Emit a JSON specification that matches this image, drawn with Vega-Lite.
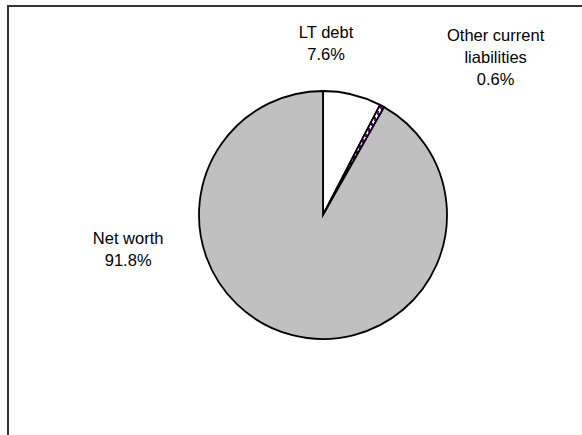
{
  "$schema": "https://vega.github.io/schema/vega-lite/v6.json",
  "width": 630,
  "height": 430,
  "autosize": {"type": "none"},
  "padding": {"left": 8, "top": 6, "right": 0, "bottom": 0},
  "background": "white",
  "view": {"stroke": "#333333", "strokeWidth": 2, "fill": "white"},
  "config": {
    "text": {"font": "Liberation Sans", "fontSize": 16.5, "fill": "#000000"}
  },
  "data": {
    "values": [
      {"part": "LT debt", "share": 0.076, "rank": 1},
      {"part": "Other current\nliabilities", "share": 0.006, "rank": 2},
      {"part": "Net worth", "share": 0.918, "rank": 3}
    ]
  },
  "encoding": {
    "theta": {"field": "share", "type": "quantitative", "stack": true},
    "order": {"field": "rank", "type": "quantitative"}
  },
  "layer": [
    {
      "mark": {"type": "arc", "outerRadius": 124, "yOffset": -6, "stroke": "#000000", "strokeWidth": 1.8},
      "encoding": {
        "fill": {
          "condition": {
            "test": "datum.rank === 2",
            "value": {
              "gradient": "linear", "x1": 0, "y1": 1, "x2": 1, "y2": 0,
              "stops": [
                {"offset": 0.000, "color": "#660099"}, {"offset": 0.025, "color": "#660099"}, {"offset": 0.025, "color": "#ffffff"}, {"offset": 0.050, "color": "#ffffff"},
                {"offset": 0.050, "color": "#660099"}, {"offset": 0.075, "color": "#660099"}, {"offset": 0.075, "color": "#ffffff"}, {"offset": 0.100, "color": "#ffffff"},
                {"offset": 0.100, "color": "#660099"}, {"offset": 0.125, "color": "#660099"}, {"offset": 0.125, "color": "#ffffff"}, {"offset": 0.150, "color": "#ffffff"},
                {"offset": 0.150, "color": "#660099"}, {"offset": 0.175, "color": "#660099"}, {"offset": 0.175, "color": "#ffffff"}, {"offset": 0.200, "color": "#ffffff"},
                {"offset": 0.200, "color": "#660099"}, {"offset": 0.225, "color": "#660099"}, {"offset": 0.225, "color": "#ffffff"}, {"offset": 0.250, "color": "#ffffff"},
                {"offset": 0.250, "color": "#660099"}, {"offset": 0.275, "color": "#660099"}, {"offset": 0.275, "color": "#ffffff"}, {"offset": 0.300, "color": "#ffffff"},
                {"offset": 0.300, "color": "#660099"}, {"offset": 0.325, "color": "#660099"}, {"offset": 0.325, "color": "#ffffff"}, {"offset": 0.350, "color": "#ffffff"},
                {"offset": 0.350, "color": "#660099"}, {"offset": 0.375, "color": "#660099"}, {"offset": 0.375, "color": "#ffffff"}, {"offset": 0.400, "color": "#ffffff"},
                {"offset": 0.400, "color": "#660099"}, {"offset": 0.425, "color": "#660099"}, {"offset": 0.425, "color": "#ffffff"}, {"offset": 0.450, "color": "#ffffff"},
                {"offset": 0.450, "color": "#660099"}, {"offset": 0.475, "color": "#660099"}, {"offset": 0.475, "color": "#ffffff"}, {"offset": 0.500, "color": "#ffffff"},
                {"offset": 0.500, "color": "#660099"}, {"offset": 0.525, "color": "#660099"}, {"offset": 0.525, "color": "#ffffff"}, {"offset": 0.550, "color": "#ffffff"},
                {"offset": 0.550, "color": "#660099"}, {"offset": 0.575, "color": "#660099"}, {"offset": 0.575, "color": "#ffffff"}, {"offset": 0.600, "color": "#ffffff"},
                {"offset": 0.600, "color": "#660099"}, {"offset": 0.625, "color": "#660099"}, {"offset": 0.625, "color": "#ffffff"}, {"offset": 0.650, "color": "#ffffff"},
                {"offset": 0.650, "color": "#660099"}, {"offset": 0.675, "color": "#660099"}, {"offset": 0.675, "color": "#ffffff"}, {"offset": 0.700, "color": "#ffffff"},
                {"offset": 0.700, "color": "#660099"}, {"offset": 0.725, "color": "#660099"}, {"offset": 0.725, "color": "#ffffff"}, {"offset": 0.750, "color": "#ffffff"},
                {"offset": 0.750, "color": "#660099"}, {"offset": 0.775, "color": "#660099"}, {"offset": 0.775, "color": "#ffffff"}, {"offset": 0.800, "color": "#ffffff"},
                {"offset": 0.800, "color": "#660099"}, {"offset": 0.825, "color": "#660099"}, {"offset": 0.825, "color": "#ffffff"}, {"offset": 0.850, "color": "#ffffff"},
                {"offset": 0.850, "color": "#660099"}, {"offset": 0.875, "color": "#660099"}, {"offset": 0.875, "color": "#ffffff"}, {"offset": 0.900, "color": "#ffffff"},
                {"offset": 0.900, "color": "#660099"}, {"offset": 0.925, "color": "#660099"}, {"offset": 0.925, "color": "#ffffff"}, {"offset": 0.950, "color": "#ffffff"},
                {"offset": 0.950, "color": "#660099"}, {"offset": 0.975, "color": "#660099"}, {"offset": 0.975, "color": "#ffffff"}, {"offset": 1.000, "color": "#ffffff"}
              ]
            }
          },
          "field": "part",
          "type": "nominal",
          "scale": {
            "domain": ["LT debt", "Other current\nliabilities", "Net worth"],
            "range": ["#ffffff", "#660099", "#c0c0c0"]
          },
          "legend": null
        }
      }
    },
    {
      "mark": {"type": "text", "radius": 177, "thetaOffset": -0.2213, "yOffset": -6, "lineBreak": "\n", "align": "center", "baseline": "alphabetic"},
      "encoding": {"text": {"condition": {"test": "datum.rank === 1", "field": "part", "type": "nominal"}, "value": ""}}
    },
    {
      "mark": {"type": "text", "radius": 177, "thetaOffset": -0.2213, "yOffset": -6, "dy": 22, "align": "center", "baseline": "alphabetic"},
      "encoding": {"text": {"condition": {"test": "datum.rank === 1", "field": "share", "type": "quantitative", "format": ".1%"}, "value": ""}}
    },
    {
      "mark": {"type": "text", "radius": 245, "thetaOffset": 0.2855, "yOffset": -6, "lineBreak": "\n", "lineHeight": 22, "align": "center", "baseline": "alphabetic"},
      "encoding": {"text": {"condition": {"test": "datum.rank === 2", "field": "part", "type": "nominal"}, "value": ""}}
    },
    {
      "mark": {"type": "text", "radius": 245, "thetaOffset": 0.2855, "yOffset": -6, "dy": 44, "align": "center", "baseline": "alphabetic"},
      "encoding": {"text": {"condition": {"test": "datum.rank === 2", "field": "share", "type": "quantitative", "format": ".1%"}, "value": ""}}
    },
    {
      "mark": {"type": "text", "radius": 197, "thetaOffset": 1.165, "yOffset": -6, "lineBreak": "\n", "align": "center", "baseline": "alphabetic"},
      "encoding": {"text": {"condition": {"test": "datum.rank === 3", "field": "part", "type": "nominal"}, "value": ""}}
    },
    {
      "mark": {"type": "text", "radius": 197, "thetaOffset": 1.165, "yOffset": -6, "dy": 22, "align": "center", "baseline": "alphabetic"},
      "encoding": {"text": {"condition": {"test": "datum.rank === 3", "field": "share", "type": "quantitative", "format": ".1%"}, "value": ""}}
    }
  ]
}
